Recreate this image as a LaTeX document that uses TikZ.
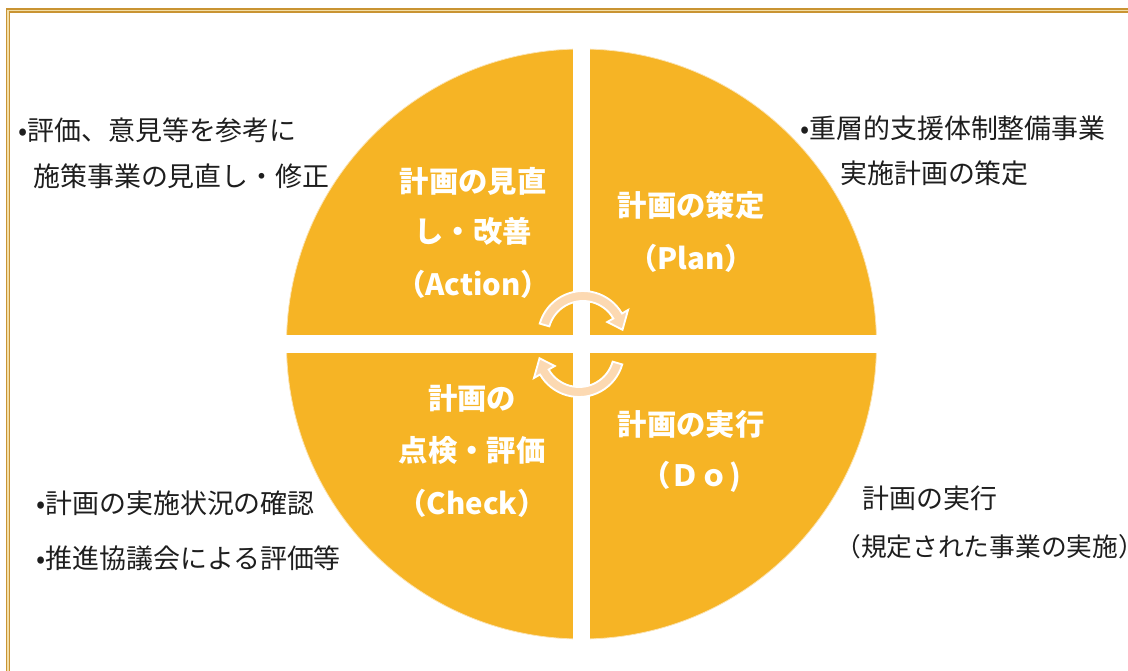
\documentclass[tikz,border=0pt]{standalone}
\usepackage{fontspec}
\setmainfont{Noto Sans CJK JP}
\usepackage{tikz}
\pgfdeclarelayer{edgelayer}
\pgfdeclarelayer{nodelayer}
\pgfsetlayers{edgelayer,main,nodelayer}
\definecolor{cyclegold}{HTML}{F6B425}
\definecolor{cycleedge}{HTML}{FBE3B2}
\definecolor{turnpeach}{HTML}{FCD9B2}
\definecolor{framegold}{HTML}{C99433}
\definecolor{framelight}{HTML}{F3DFA8}
\definecolor{notetext}{HTML}{1E1E1E}
\tikzset{
	stage/.style={text=white, inner sep=0, font=\bfseries\fontsize{22}{26}\selectfont},
	note/.style={text=notetext, anchor=west, inner sep=0, font=\fontsize{20.2}{24}\selectfont},
	turn/.style={fill=turnpeach, draw=white, line width=1.4pt, line join=miter}
}

\begin{document}
\begin{tikzpicture}[x=0.75pt, y=-0.75pt]
	\useasboundingbox (0, 0) rectangle (1128, 671);
	\begin{pgfonlayer}{edgelayer}
		% frame (runs off at the right and the bottom)
		\draw [framegold, line width=1.3pt, double=framelight, double distance=0.9pt] (8, 700) -- (8, 10.5) -- (1150, 10.5);
		% the cycle
		\fill [cyclegold] (581.5, 344) circle (295);
		\draw [cycleedge, line width=0.6pt] (581.5, 344) circle (295);
		\fill [white] (573, 40) rectangle (590, 650);
		\fill [white] (280, 335) rectangle (885, 353);
		% turning arrows
		\begin{scope}[shift={(583, 336)}]
			\draw [turn] (196:45) arc [start angle=196, end angle=330, radius=45] -- (330:52) -- (351:40) -- (330:28) -- (330:35) arc [start angle=330, end angle=196, radius=35] -- cycle;
		\end{scope}
		\begin{scope}[shift={(579, 352)}]
			\draw [turn] (16:45) arc [start angle=16, end angle=150, radius=45] -- (150:52) -- (171:40) -- (150:28) -- (150:35) arc [start angle=150, end angle=16, radius=35] -- cycle;
		\end{scope}
	\end{pgfonlayer}
	\begin{pgfonlayer}{nodelayer}
		\node [stage] (0) at (473, 181) {計画の見直};
		\node [stage] (1) at (473, 231) {し・改善};
		\node [stage] (2) at (473, 284) {（Action）};
		\node [stage] (3) at (691, 205) {計画の策定};
		\node [stage] (4) at (691, 258) {（Plan）};
		\node [stage] (5) at (472, 398) {計画の};
		\node [stage] (6) at (472, 450) {点検・評価};
		\node [stage] (7) at (472, 503) {（Check）};
		\node [stage] (8) at (691, 424) {計画の実行};
		\node [stage] (9) at (691, 477) {（Ｄｏ)};
		\node [note] (10) at (18, 130) {•評価、意見等を参考に};
		\node [note] (11) at (33, 176) {施策事業の見直し・修正};
		\node [note] (12) at (800, 128) {•重層的支援体制整備事業};
		\node [note] (13) at (840, 173) {実施計画の策定};
		\node [note] (14) at (36, 503) {•計画の実施状況の確認};
		\node [note] (15) at (36, 558) {•推進協議会による評価等};
		\node [note] (16) at (862, 498) {計画の実行};
		\node [note, font=\fontsize{19.3}{24}\selectfont] (17) at (835, 547) {（規定された事業の実施）};
	\end{pgfonlayer}
\end{tikzpicture}
\end{document}
